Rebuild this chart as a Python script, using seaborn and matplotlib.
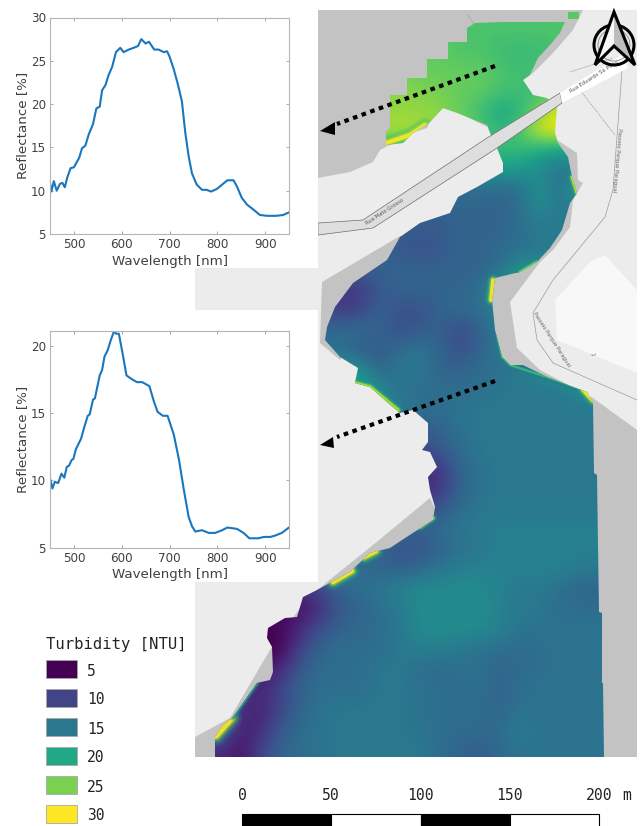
import numpy as np
import seaborn as sns
import matplotlib.pyplot as plt
from matplotlib.colors import Normalize
from matplotlib.patches import Circle, PathPatch, Polygon, Rectangle
from matplotlib.path import Path

# spectra
wl_top = [450, 453, 458, 464, 471, 476, 481, 486, 493, 500, 511, 517, 524, 531, 540, 547, 554, 559, 566, 573,
          580, 588, 597, 604, 615, 625, 634, 641, 650, 657, 668, 677, 688, 695, 700, 709, 717, 726, 733, 740,
          747, 757, 768, 778, 787, 799, 810, 821, 834, 841, 851, 862, 876, 889, 904, 924, 938, 950]
refl_top = [10.9, 9.9, 11.1, 10.0, 10.8, 10.9, 10.4, 11.5, 12.6, 12.7, 13.8, 14.9, 15.2, 16.5, 17.7, 19.5, 19.7, 21.6, 22.2, 23.4,
            24.3, 26.0, 26.5, 26.0, 26.3, 26.5, 26.7, 27.5, 27.0, 27.2, 26.3, 26.3, 26.0, 26.1, 25.5, 24.0, 22.4, 20.3, 16.7, 14.0,
            12.0, 10.7, 10.1, 10.1, 9.9, 10.2, 10.7, 11.2, 11.2, 10.5, 9.2, 8.4, 7.8, 7.2, 7.1, 7.1, 7.2, 7.5]
wl_bot = [450, 455, 460, 467, 474, 480, 485, 490, 495, 499, 504, 515, 522, 529, 533, 540, 544, 554, 559, 564,
          571, 577, 584, 588, 594, 601, 610, 622, 632, 643, 653, 658, 667, 675, 686, 696, 709, 720, 730, 740,
          747, 754, 768, 782, 796, 810, 821, 841, 855, 867, 886, 897, 911, 921, 935, 950]
refl_bot = [10.16, 9.4, 9.9, 9.8, 10.5, 10.2, 11.0, 11.1, 11.5, 11.6, 12.3, 13.1, 14.0, 14.8, 14.9, 16.0, 16.1, 17.8, 18.2, 19.2,
            19.7, 20.4, 21.1, 20.9, 20.9, 19.6, 17.8, 17.5, 17.3, 17.3, 17.1, 17.0, 15.9, 15.1, 14.8, 14.8, 13.4, 11.5, 9.3, 7.3,
            6.6, 6.2, 6.3, 6.1, 6.1, 6.3, 6.5, 6.4, 6.1, 5.7, 5.7, 5.8, 5.8, 5.9, 6.1, 6.5]

legend_values = [5, 10, 15, 20, 25, 30]
scale_ticks = [0, 50, 100, 150, 200]

# turbidity, one row every 20 px from y=10, one column every 20 px from x=220
turbidity = np.array([
    [25, 25, 25, 25, 25, 25, 25, 25, 25, 25, 24, 24, 23, 23, 23, 23, 23, 23, 24, 24, 24],
    [25, 25, 25, 25, 25, 25, 25, 25, 25, 25, 24, 24, 23, 23, 23, 23, 23, 23, 24, 24, 24],
    [25, 25, 25, 25, 25, 25, 25, 25, 25, 25, 24, 24, 23, 23, 22, 22, 22, 23, 23, 23, 23],
    [25, 25, 25, 25, 25, 25, 25, 25, 25, 25, 24, 24, 24, 24, 23, 22, 23, 23, 23, 23, 23],
    [26, 26, 26, 26, 26, 26, 26, 26, 25.5, 25.5, 25, 25, 24, 24, 23, 22.5, 22, 23, 25, 25, 25],
    [26, 26, 26, 26, 26, 26, 26, 26, 26, 26, 26, 25.5, 24, 22.5, 19.5, 21, 25, 29, 30, 30, 30],
    [27, 27, 27, 27, 27, 27, 27, 27, 27, 27, 26.5, 26, 25, 23, 21.5, 23, 29, 30, 30, 30, 30],
    [22, 22, 22, 22, 22, 22, 22, 22, 22, 22, 22, 22, 22, 22, 22, 22, 20, 19, 19, 19, 19],
    [15, 15, 15, 15, 15, 15, 15, 15, 15, 15, 15, 15, 15, 17, 19, 18, 17, 14, 16, 16, 16],
    [14, 14, 14, 14, 14, 14, 14, 14, 14, 14, 14, 14, 14, 14, 13, 14, 18, 14, 20, 20, 20],
    [13, 13, 13, 13, 13, 13, 13, 13, 13, 13, 13, 13, 13, 13, 13, 14, 17, 15, 15, 15, 15],
    [12, 12, 12, 12, 12, 12, 12, 12, 12, 12, 12, 12, 13, 13, 13, 14, 15, 15, 15, 15, 15],
    [12, 12, 12, 12, 12, 12, 12, 12, 13, 12, 11, 12, 13, 13, 14, 14, 15, 16, 16, 16, 16],
    [12, 12, 12, 12, 12, 12, 12, 12, 13, 13, 13, 13, 13, 13, 14, 18, 18, 18, 18, 18, 18],
    [9, 9, 9, 9, 9, 9, 9, 9, 12, 13, 13, 13, 13, 14, 18, 22, 22, 22, 22, 22, 22],
    [10, 10, 10, 10, 10, 10, 9, 10, 13, 11, 11, 13, 14, 14, 16, 18, 18, 18, 18, 18, 18],
    [14, 14, 14, 14, 14, 14, 14, 14, 13, 11, 12, 13, 10, 13, 15, 16, 16, 16, 16, 16, 16],
    [14, 14, 14, 14, 14, 14, 14, 12, 12, 14, 15, 13, 11, 13, 15, 16, 16, 16, 16, 16, 16],
    [18, 18, 18, 18, 18, 18, 18, 18, 13, 15, 15, 13, 13, 14, 14, 15, 17, 19, 19, 19, 19],
    [20, 20, 20, 20, 20, 20, 20, 20, 17, 14, 14, 14, 14, 14, 15, 15, 15, 15, 17, 17, 17],
    [16, 16, 16, 16, 16, 16, 16, 16, 16, 16, 14, 14, 15, 15, 15, 15, 15, 15, 15, 15, 15],
    [11, 11, 11, 11, 11, 11, 11, 11, 11, 11, 12, 13, 14, 15, 15, 15, 15, 15, 15, 15, 15],
    [10, 10, 10, 10, 10, 10, 10, 10, 10, 10, 10, 12, 14, 15, 15, 15, 15, 15, 15, 15, 15],
    [8, 8, 8, 8, 8, 8, 8, 8, 8, 8, 8, 8.5, 13, 14.5, 15, 15, 15, 15, 15, 15, 15],
    [8, 8, 8, 8, 8, 8, 8, 8, 8, 8, 8, 9, 13, 14.5, 15, 15, 15, 15, 15, 15, 15],
    [9, 9, 9, 9, 9, 9, 9, 9, 9, 9, 10, 12, 14, 15, 15, 15, 15, 15, 15, 15, 15],
    [15, 15, 15, 15, 15, 15, 15, 15, 15, 14, 13, 14, 15, 15, 16, 16, 16, 16, 16, 16, 16],
    [13, 13, 13, 13, 13, 13, 13, 13, 13, 11, 11, 13, 14, 15, 16, 16, 16, 16, 16, 16, 16],
    [14, 14, 14, 14, 14, 14, 15, 14, 13, 13, 14, 15, 16, 16, 16, 16, 16, 16, 15, 15, 15],
    [8, 8, 8, 8, 8, 10, 13, 14, 15, 16, 17, 17, 17, 17, 16, 15, 15, 14, 13, 13, 13],
    [6, 6, 6, 6, 6, 8, 12, 13, 14, 15, 17, 17, 17, 17, 16, 15, 15, 14, 14, 14, 14],
    [5, 5, 5, 5, 8, 11.5, 13, 13.5, 14, 15, 17, 17, 17, 17, 16, 14.5, 14.5, 14.5, 14.5, 14.5, 14.5],
    [5, 5, 5, 5, 10, 13, 14, 14, 14, 15, 15.5, 15.5, 15, 14, 14, 13.5, 14, 14.5, 14.5, 14.5, 14.5],
    [6, 6, 6, 8, 12, 14, 14, 14, 15, 15, 14, 13.5, 14, 14.5, 13, 14, 14, 14.5, 14.5, 14.5, 14.5],
    [6, 8, 8, 10, 13, 14, 14, 14, 15, 15, 14.5, 14, 14, 14, 13, 14, 14.5, 14.5, 14.5, 14.5, 14.5],
    [10, 9, 7, 10, 13, 14.5, 15, 15, 15, 15, 14.5, 14, 14, 14, 13, 14.5, 14.5, 14.5, 14.5, 14.5, 14.5],
    [14, 7, 8, 12, 14, 14.5, 15, 15, 15, 15, 14.5, 14, 14, 13.5, 14, 15.5, 14.5, 14.5, 14.5, 14.5, 14.5],
    [8, 6, 10, 13, 14, 14.5, 15, 15, 15, 15, 15, 14, 13, 12.5, 13.5, 14.5, 14.5, 14.5, 14.5, 14.5, 14.5],
    [8, 6, 10, 13, 14, 14.5, 15, 15, 15, 15, 15, 14, 13, 12.5, 13.5, 14.5, 14.5, 14.5, 14.5, 14.5, 14.5],
])

# map outlines in image pixels
water_edge = [(386, 145), (386, 132), (390, 128), (390, 95), (407, 95), (407, 78), (427, 78), (427, 59), (448, 59),
              (448, 42), (467, 42), (467, 28), (475, 23), (503, 22), (565, 22), (560, 33), (550, 45), (538, 58),
              (530, 75), (523, 80), (533, 95), (547, 98), (557, 107), (555, 133), (558, 143), (568, 157), (572, 177),
              (577, 193), (570, 203), (562, 230), (550, 248), (537, 262), (520, 272), (495, 278), (492, 300),
              (495, 330), (502, 357), (510, 365), (523, 365), (547, 377), (573, 387), (587, 392), (593, 403),
              (594, 473), (597, 475), (599, 612), (602, 613), (602, 683), (603, 683), (604, 757), (215, 757),
              (215, 737), (223, 725), (233, 717), (243, 703), (257, 683), (270, 680), (273, 672), (272, 647),
              (267, 638), (268, 628), (285, 618), (297, 617), (303, 597), (317, 590), (350, 572), (370, 553),
              (390, 548), (402, 540), (433, 520), (435, 507), (430, 490), (428, 477), (437, 467), (430, 452),
              (422, 450), (428, 442), (428, 423), (413, 410), (400, 413), (387, 402), (370, 387), (355, 383),
              (358, 368), (340, 357), (325, 340), (327, 327), (335, 307), (353, 283), (387, 260), (400, 237),
              (420, 223), (450, 213), (458, 197), (477, 187), (503, 172), (503, 163), (497, 148), (490, 133),
              (487, 125), (457, 113), (443, 108), (430, 122), (413, 133), (403, 143)]
water_patch = [(568, 12), (579, 12), (579, 19), (568, 19)]

bank_north = [(318, 10), (583, 10), (573, 30), (553, 53), (533, 73), (523, 80), (487, 127), (457, 112), (443, 108),
              (430, 122), (427, 128), (415, 132), (380, 150), (373, 162), (350, 172), (318, 178)]
bank_east = [(557, 140), (577, 153), (578, 180), (583, 183), (573, 200), (570, 227), (553, 250), (540, 262), (510, 302),
             (517, 348), (540, 370), (593, 398), (637, 430), (637, 757), (590, 757), (590, 410), (480, 370), (480, 280),
             (530, 250), (555, 200), (545, 140)]
bank_west = [(322, 282), (400, 236), (420, 240), (340, 360), (320, 343)]
bank_south = [(195, 757), (195, 737), (230, 718), (270, 650), (300, 608), (317, 590), (373, 545), (430, 498), (440, 520),
              (300, 700), (215, 757)]
block_east = [(555, 300), (590, 262), (605, 255), (637, 290), (637, 373), (557, 340)]

road_grey = [(318, 223), (363, 220), (487, 138), (560, 93), (562, 103), (497, 148), (373, 228), (318, 235)]
road_white = [(560, 93), (622, 55), (628, 68), (562, 103)]

# bright rims along the shore: (points, value, width)
rims = [
    ([(386, 143), (410, 135), (425, 125)], 30, 3.0),
    ([(355, 383), (370, 387), (398, 410)], 27, 2.4),
    ([(493, 280), (491, 300)], 30, 2.6),
    ([(497, 335), (502, 357), (510, 365), (547, 377), (583, 390)], 22, 1.4),
    ([(583, 390), (593, 401)], 30, 2.4),
    ([(520, 272), (537, 262)], 25, 1.8),
    ([(420, 527), (433, 518)], 28, 2.0),
    ([(572, 177), (577, 193)], 28, 2.0),
    ([(333, 582), (352, 571)], 30, 3.4),
    ([(364, 557), (376, 551)], 30, 3.4),
    ([(216, 736), (232, 718)], 30, 4.0),
    ([(233, 717), (243, 703), (257, 683)], 20, 1.6),
]

sns.set_theme(style="white")
plt.rcParams['font.family'] = ['DejaVu Sans']
W, H = 641, 826
fig = plt.figure(figsize=(W / 100, H / 100), dpi=100)
cmap = sns.color_palette("viridis", as_cmap=True)
norm = Normalize(5, 30)

bg = fig.add_axes([0, 0, 1, 1])
LIGHT = '#ececec'
GREY = '#c3c3c3'

# map background
bg.add_patch(Rectangle((318, 10), 319, 747, color=LIGHT, lw=0))
bg.add_patch(Rectangle((195, 268), 123, 42, color=LIGHT, lw=0))
bg.add_patch(Rectangle((195, 582), 123, 175, color=LIGHT, lw=0))
bg.add_patch(Polygon(block_east, color='#f8f8f8', lw=0))
for poly in [bank_north, bank_east, bank_west, bank_south]:
    bg.add_patch(Polygon(poly, color=GREY, lw=0))

# footpath lines
bg.plot([622, 613, 605, 553, 533, 537, 553, 637], [70, 190, 217, 280, 313, 340, 363, 400], color='#9a9a9a', lw=0.5)
bg.plot([570, 613], [72, 58], color='#a5a5a5', lw=0.6, ls=(0, (2, 1)))
bg.plot([580, 615], [90, 135], color='#a5a5a5', lw=0.8, ls=(0, (1, 1)))
bg.plot([467, 475], [14, 25], color='#a5a5a5', lw=0.5)

# turbidity raster clipped to the water outline
verts = water_edge + [water_edge[0]] + water_patch + [water_patch[0]]
codes = ([Path.MOVETO] + [Path.LINETO] * (len(water_edge) - 1) + [Path.CLOSEPOLY]
         + [Path.MOVETO] + [Path.LINETO] * (len(water_patch) - 1) + [Path.CLOSEPOLY])
water = PathPatch(Path(verts, codes), fc='none', ec='none', transform=bg.transData)
bg.add_patch(water)
im = bg.imshow(turbidity, cmap=cmap, norm=norm, extent=(210, 630, 780, 0), aspect='auto',
               interpolation='bicubic', zorder=2)
im.set_clip_path(water)
for pts, val, width in rims:
    xs, ys = zip(*pts)
    # soft falloff around each rim, widest and faintest first
    for scale, alpha, v in [(3.6, 0.18, val - 10), (2.6, 0.3, val - 7), (1.7, 0.5, val - 3), (1.0, 0.9, val)]:
        seg, = bg.plot(xs, ys, color=cmap(norm(max(v, 14))), lw=width * scale, alpha=alpha, zorder=3,
                       solid_capstyle='round')
        seg.set_clip_path(water)

# road
bg.add_patch(Polygon(road_grey, fc='#dedede', ec='#6e6e6e', lw=0.5, zorder=4))
bg.add_patch(Polygon(road_white, fc='white', ec='none', zorder=4))
bg.text(385, 212, 'Rua Mato Grosso', fontsize=3.8, color='#555555', rotation=33, ha='center', va='center', zorder=5)
bg.text(594, 77, 'Rua Eduardo Sá Pinto', fontsize=3.8, color='#555555', rotation=32, ha='center', va='center', zorder=5)
bg.text(617, 160, 'Passeio Parque Paraguai', fontsize=3.8, color='#666666', rotation=-95, ha='center', va='center', zorder=5)
bg.text(552, 340, 'Passeio Parque Paraguai', fontsize=3.8, color='#666666', rotation=-57, ha='center', va='center', zorder=5)
bg.text(594, 355, 'sol', fontsize=3.2, color='#888888', ha='center', va='center', zorder=5)

# dotted arrows
for (x0, y0, x1, y1), head in [((495, 66, 337, 124), [(320, 131), (335, 122), (335, 135)]),
                               ((495, 381, 337, 437), [(320, 445), (333, 437), (334, 448)])]:
    bg.plot([x0, x1], [y0, y1], color='black', lw=3.0, ls=(0, (1.1, 1.1)), zorder=6, dash_capstyle='butt')
    bg.add_patch(Polygon(head, color='black', lw=0, zorder=6))

# north arrow
bg.add_patch(Circle((614, 45), 20, fc='none', ec='black', lw=2.2, zorder=7))
bg.add_patch(Circle((614, 45), 16, fc='none', ec='#777777', lw=0.5, zorder=7))
bg.add_patch(Polygon([(614, 12), (614, 46), (635, 65)], fc='#bdbdbd', ec='none', zorder=7))
bg.add_patch(Polygon([(614, 12), (595, 65), (614, 46)], fc='#f7f7f7', ec='none', zorder=7))
bg.add_patch(Polygon([(614, 12), (595, 65), (614, 46), (635, 65)], fc='none', ec='black', lw=2.2, joinstyle='miter', zorder=8))

# white boxes under the two plots
bg.add_patch(Rectangle((0, 0), 318, 268, color='white', lw=0, zorder=9))
bg.add_patch(Rectangle((0, 310), 318, 272, color='white', lw=0, zorder=9))

# legend
mono = 'DejaVu Sans Mono'
bg.text(46, 644, 'Turbidity [NTU]', family=mono, fontsize=11.2, color='#222222', ha='left', va='center')
for i, v in enumerate(legend_values):
    y = 660 + i * 29
    bg.add_patch(Rectangle((46, y), 31, 18, fc=cmap(norm(v)), ec='#a8a8a8', lw=0.6))
    bg.text(87, y + 11, str(v), family=mono, fontsize=10.5, color='#222222', ha='left', va='center')

# scale bar
SCALE_X0 = 242
SCALE_PX = 1.785
for i, t in enumerate(scale_ticks):
    x = SCALE_X0 + t * SCALE_PX
    bg.text(x, 796, str(t), family=mono, fontsize=10.6, color='#222222', ha='center', va='center')
    if i < len(scale_ticks) - 1:
        bg.add_patch(Rectangle((x, 814), (scale_ticks[i + 1] - t) * SCALE_PX, 14, fc='black' if i % 2 == 0 else 'white',
                               ec='black', lw=0.8, clip_on=True))
bg.text(627, 796, 'm', family=mono, fontsize=10.6, color='#222222', ha='center', va='center')

bg.set_xlim(0, W)
bg.set_ylim(H, 0)
bg.axis('off')


def spectrum_axes(top, bottom, wl, refl, ylim, yticks):
    ax = fig.add_axes([50 / W, 1 - bottom / H, 239 / W, (bottom - top) / H], zorder=10)
    sns.lineplot(x=wl, y=refl, ax=ax, color='#1a76bd', lw=1.5, errorbar=None, sort=False)
    ax.set_xlim(450, 950)
    ax.set_ylim(*ylim)
    ax.set_xticks([500, 600, 700, 800, 900])
    ax.set_yticks(yticks)
    ax.tick_params(direction='in', length=2, width=0.6, color='#999999', labelsize=8.6, labelcolor='#404040',
                   top=True, right=True, bottom=True, left=True, pad=3)
    for s in ax.spines.values():
        s.set_color('#b4b4b4')
        s.set_linewidth(0.8)
    ax.set_xlabel('Wavelength [nm]', fontsize=9.6, color='#404040', labelpad=2.5)
    ax.set_ylabel('Reflectance [%]', fontsize=9.7, color='#404040', labelpad=1.5)
    return ax


spectrum_axes(17.5, 234, wl_top, refl_top, (5, 30), [5, 10, 15, 20, 25, 30])
spectrum_axes(331, 547.7, wl_bot, refl_bot, (5, 21.1), [5, 10, 15, 20])

fig.savefig('out.png', dpi=100)
